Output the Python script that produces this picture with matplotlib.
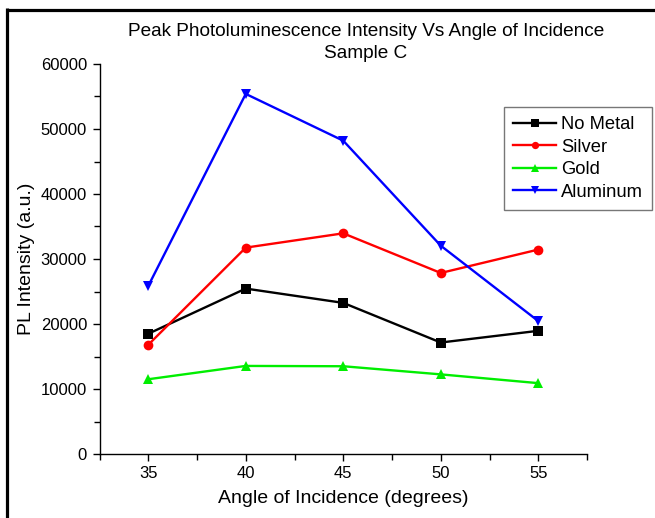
import matplotlib
matplotlib.use("Agg")
import matplotlib.pyplot as plt
from matplotlib.lines import Line2D
from matplotlib.ticker import MultipleLocator

plt.rcParams['font.family'] = ['Liberation Sans', 'DejaVu Sans']

angles = [35, 40, 45, 50, 55]
no_metal = [18500, 25450, 23250, 17150, 18950]
silver = [16800, 31750, 33950, 27850, 31450]
gold = [11500, 13550, 13500, 12250, 10900]
aluminum = [25850, 55400, 48200, 32050, 20450]

series_names = ["No Metal", "Silver", "Gold", "Aluminum"]
series_vals = [no_metal, silver, gold, aluminum]
colors = ["#000000", "#ff0000", "#00ee00", "#0000ff"]
markers = ["s", "o", "^", "v"]

fig = plt.figure(figsize=(6.55, 5.18), dpi=100)
W, H = 655, 518
ax = fig.add_axes([99.5 / W, 1 - 454 / H, (587 - 99.5) / W, (454 - 64) / H])

for name, vals, c, m in zip(series_names, series_vals, colors, markers):
    ax.plot(angles, vals, color=c, marker=m, markersize=7, linewidth=1.7,
            label=name, markeredgewidth=0)

ax.set_xlim(32.5, 57.5)
ax.set_ylim(0, 60000)
ax.xaxis.set_major_locator(MultipleLocator(5))
ax.xaxis.set_minor_locator(MultipleLocator(2.5))
ax.yaxis.set_major_locator(MultipleLocator(10000))
ax.yaxis.set_minor_locator(MultipleLocator(5000))
for s in ["top", "right"]:
    ax.spines[s].set_visible(False)
for s in ["left", "bottom"]:
    ax.spines[s].set_linewidth(1.0)
ax.tick_params(which="major", direction="out", length=5, width=1, labelsize=12, pad=4)
ax.tick_params(which="minor", direction="out", length=4, width=1)

ax.set_xlabel("Angle of Incidence (degrees)", fontsize=14, labelpad=6)
ax.set_ylabel("PL Intensity (a.u.)", fontsize=14, labelpad=4)

fig.text(366 / W, 1 - 31 / H, "Peak Photoluminescence Intensity Vs Angle of Incidence",
         ha="center", va="center", fontsize=13.7)
fig.text(366 / W, 1 - 54 / H, "Sample C", ha="center", va="center", fontsize=13.7)

leg = ax.legend(loc="upper left", bbox_to_anchor=(504 / W, 1 - 107 / H),
                bbox_transform=fig.transFigure, fontsize=13.2, frameon=True,
                fancybox=False, handlelength=2.35, handletextpad=0.25,
                borderpad=0.5, labelspacing=0.3, borderaxespad=0,
                markerscale=0.75)
leg.get_frame().set_edgecolor("#555555")
leg.get_frame().set_linewidth(1.0)

fig.add_artist(Line2D([6.5 / W, 1.0], [1 - 9.5 / H, 1 - 9.5 / H],
                      transform=fig.transFigure, color="black", linewidth=2.3,
                      solid_capstyle="butt"))
fig.add_artist(Line2D([6.5 / W, 6.5 / W], [0, 1 - 8 / H],
                      transform=fig.transFigure, color="black", linewidth=2.3,
                      solid_capstyle="butt"))

fig.savefig("out.png", dpi=100)
